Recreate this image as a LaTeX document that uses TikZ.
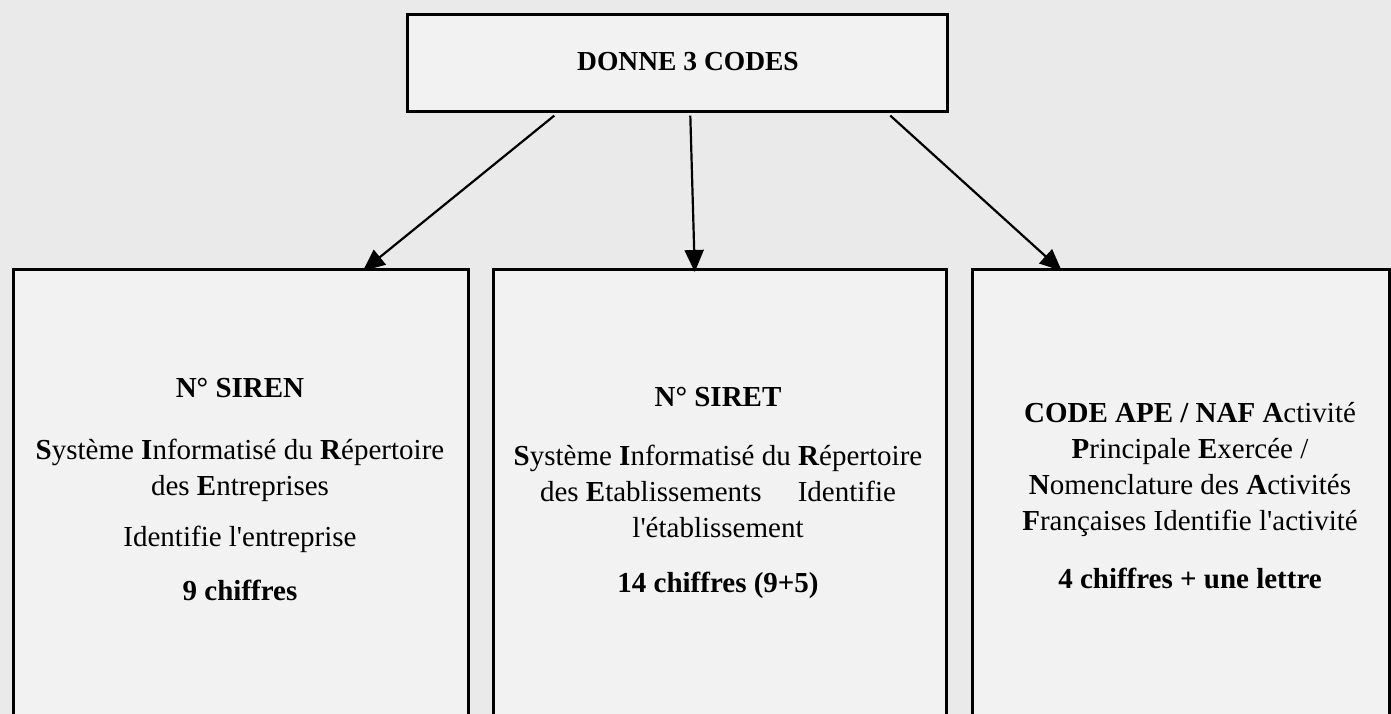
\documentclass[tikz,border=0pt]{standalone}
\usepackage{fontspec}
\setmainfont{Liberation Serif}
\usetikzlibrary{arrows.meta}
\definecolor{pagegray}{RGB}{234,234,234}
\definecolor{boxgray}{RGB}{242,242,242}
\tikzset{
  codebox/.style={draw=black, line width=2.6pt, fill=boxgray, anchor=north west, inner sep=0pt},
  codetext/.style={align=center, font=\fontsize{29}{36}\selectfont, inner sep=0pt},
  codearrow/.style={line width=2.2pt, -{Triangle[length=22pt,width=19pt]}}
}
\newcommand{\qs}{\textquotesingle}
\begin{document}
\begin{tikzpicture}[x=1pt,y=-1pt]
  \useasboundingbox (0,0) rectangle (1391,714);
  \fill[pagegray] (0,0) rectangle (1391,714);
  % boxes
  \node[codebox, minimum width=540pt, minimum height=97pt] (codes) at (406,13) {};
  \node[codebox, minimum width=455pt, minimum height=480pt] (siren) at (12,268) {};
  \node[codebox, minimum width=453pt, minimum height=480pt] (siret) at (492,268) {};
  \node[codebox, minimum width=417pt, minimum height=480pt] (ape) at (971,268) {};
  % texts
  \node[codetext, font=\fontsize{27.5}{34}\selectfont] (codeslbl) at (688,62) {\textbf{DONNE 3 CODES}};
  \node[codetext] (sirenlbl) at (240,489) {\textbf{N° SIREN}\\[26pt]
    \textbf{S}ystème \textbf{I}nformatisé du \textbf{R}épertoire\\
    des \textbf{E}ntreprises\\[15pt]
    Identifie l\qs entreprise\\[18pt]
    \textbf{9 chiffres}};
  \node[codetext] (siretlbl) at (718,493) {\textbf{N° SIRET}\\[23pt]
    \textbf{S}ystème \textbf{I}nformatisé du \textbf{R}épertoire\\
    des \textbf{E}tablissements\quad\ Identifie\\
    l\qs établissement\\[19pt]
    \textbf{14 chiffres (9+5)}};
  \node[codetext] (apelbl) at (1190,496) {\textbf{CODE APE / NAF A}ctivité\\
    \textbf{P}rincipale \textbf{E}xercée /\\
    \textbf{N}omenclature des \textbf{A}ctivités\\
    \textbf{F}rançaises Identifie l\qs activité\\[22pt]
    \textbf{4 chiffres + une lettre}};
  % arrows
  \draw[codearrow] ([xshift=-123pt,yshift=-3pt]codes.south) -- ([xshift=122pt,yshift=-3pt]siren.north);
  \draw[codearrow] ([xshift=13pt,yshift=-3pt]codes.south) -- ([xshift=-25pt,yshift=-4pt]siret.north);
  \draw[codearrow] ([xshift=213pt,yshift=-3pt]codes.south) -- ([xshift=-119pt,yshift=-3pt]ape.north);
\end{tikzpicture}
\end{document}
